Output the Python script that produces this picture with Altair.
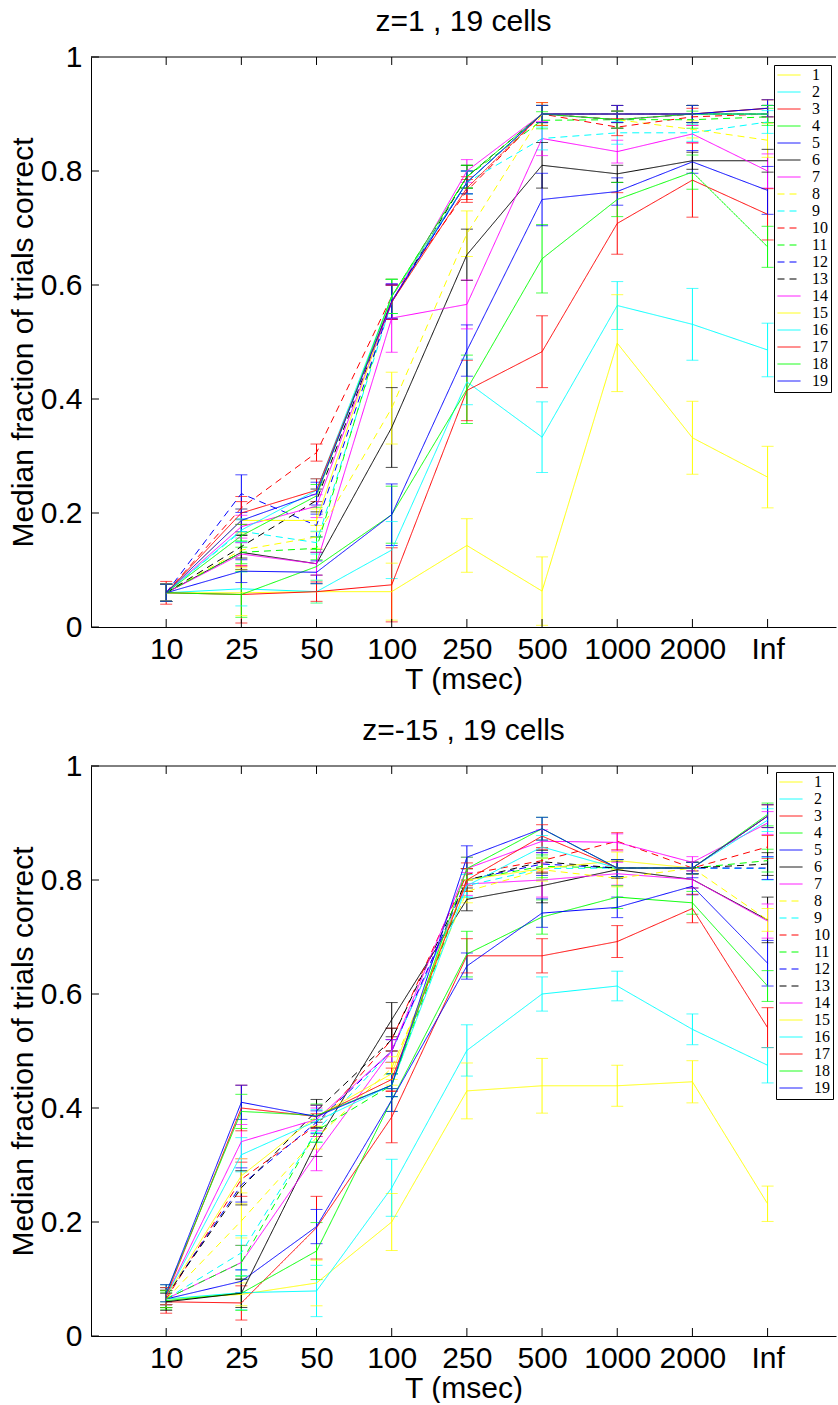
import altair as alt
import pandas as pd

# ---------------- data ----------------
T_LABELS = ["10", "25", "50", "100", "250", "500", "1000", "2000", "Inf"]
X_POS = [1, 2, 3, 4, 5, 6, 7, 8, 9]
CELLS = [str(i) for i in range(1, 20)]
BASE_COLORS = ["#ffff00", "#00ffff", "#ff0000", "#00ff00", "#0000ff", "#000000", "#ff00ff"]
LINE_COLORS = [BASE_COLORS[i % 7] for i in range(19)]
DASHES = [[1, 0]] * 7 + [[7, 5]] * 6 + [[1, 0]] * 6
Y_TICKS = [0, 0.2, 0.4, 0.6, 0.8, 1]

# z = 1 panel: median fraction correct per cell
TOP_VALUES = {
    "1": [0.060, 0.060, 0.062, 0.062, 0.143, 0.063, 0.498, 0.332, 0.263],
    "2": [0.060, 0.067, 0.062, 0.135, 0.430, 0.333, 0.564, 0.531, 0.486],
    "3": [0.060, 0.057, 0.062, 0.074, 0.415, 0.483, 0.708, 0.784, 0.724],
    "4": [0.060, 0.057, 0.106, 0.197, 0.417, 0.646, 0.750, 0.798, 0.667],
    "5": [0.060, 0.098, 0.096, 0.197, 0.485, 0.750, 0.764, 0.816, 0.766],
    "6": [0.060, 0.131, 0.111, 0.350, 0.653, 0.810, 0.795, 0.818, 0.818],
    "7": [0.060, 0.128, 0.111, 0.542, 0.566, 0.857, 0.834, 0.865, 0.800],
    "8": [0.060, 0.135, 0.158, 0.384, 0.690, 0.900, 0.890, 0.873, 0.854],
    "9": [0.060, 0.168, 0.148, 0.570, 0.780, 0.857, 0.867, 0.867, 0.886],
    "10": [0.060, 0.209, 0.306, 0.580, 0.765, 0.900, 0.877, 0.895, 0.900],
    "11": [0.060, 0.131, 0.138, 0.580, 0.790, 0.889, 0.890, 0.890, 0.895],
    "12": [0.060, 0.234, 0.178, 0.570, 0.780, 0.900, 0.900, 0.900, 0.900],
    "13": [0.060, 0.141, 0.222, 0.570, 0.790, 0.900, 0.890, 0.900, 0.900],
    "14": [0.060, 0.176, 0.212, 0.570, 0.800, 0.900, 0.890, 0.900, 0.900],
    "15": [0.060, 0.187, 0.187, 0.580, 0.780, 0.900, 0.900, 0.900, 0.910],
    "16": [0.060, 0.170, 0.240, 0.580, 0.780, 0.900, 0.900, 0.900, 0.900],
    "17": [0.060, 0.200, 0.240, 0.570, 0.770, 0.900, 0.900, 0.900, 0.910],
    "18": [0.060, 0.160, 0.230, 0.580, 0.790, 0.900, 0.890, 0.900, 0.900],
    "19": [0.060, 0.187, 0.234, 0.572, 0.780, 0.900, 0.900, 0.900, 0.910],
}
TOP_ERRORS = {
    "1": [0.015, 0.040, 0.020, 0.050, 0.047, 0.060, 0.085, 0.064, 0.054],
    "2": [0.015, 0.030, 0.020, 0.050, 0.040, 0.062, 0.042, 0.063, 0.047],
    "3": [0.020, 0.050, 0.017, 0.065, 0.053, 0.063, 0.054, 0.065, 0.045],
    "4": [0.015, 0.040, 0.030, 0.050, 0.060, 0.060, 0.030, 0.030, 0.036],
    "5": [0.015, 0.020, 0.020, 0.054, 0.045, 0.046, 0.024, 0.020, 0.042],
    "6": [0.015, 0.030, 0.020, 0.070, 0.045, 0.040, 0.015, 0.015, 0.020],
    "7": [0.015, 0.020, 0.020, 0.060, 0.043, 0.030, 0.020, 0.015, 0.030],
    "8": [0.015, 0.030, 0.020, 0.063, 0.040, 0.020, 0.015, 0.015, 0.030],
    "9": [0.015, 0.020, 0.020, 0.030, 0.020, 0.020, 0.020, 0.015, 0.020],
    "10": [0.015, 0.020, 0.015, 0.030, 0.020, 0.020, 0.015, 0.015, 0.015],
    "11": [0.015, 0.020, 0.020, 0.030, 0.020, 0.015, 0.015, 0.015, 0.015],
    "12": [0.015, 0.033, 0.020, 0.030, 0.020, 0.015, 0.015, 0.015, 0.015],
    "13": [0.015, 0.020, 0.020, 0.030, 0.020, 0.015, 0.015, 0.015, 0.015],
    "14": [0.015, 0.020, 0.020, 0.030, 0.020, 0.015, 0.015, 0.015, 0.015],
    "15": [0.015, 0.020, 0.020, 0.030, 0.020, 0.015, 0.015, 0.015, 0.015],
    "16": [0.015, 0.020, 0.020, 0.030, 0.020, 0.015, 0.015, 0.015, 0.015],
    "17": [0.015, 0.020, 0.020, 0.030, 0.020, 0.015, 0.015, 0.015, 0.015],
    "18": [0.015, 0.020, 0.020, 0.030, 0.020, 0.015, 0.015, 0.015, 0.015],
    "19": [0.015, 0.020, 0.020, 0.030, 0.020, 0.015, 0.015, 0.015, 0.015],
}

# z = -15 panel
BOT_VALUES = {
    "1": [0.065, 0.073, 0.093, 0.200, 0.430, 0.439, 0.439, 0.446, 0.232],
    "2": [0.065, 0.076, 0.079, 0.260, 0.501, 0.600, 0.614, 0.538, 0.475],
    "3": [0.060, 0.058, 0.190, 0.384, 0.667, 0.667, 0.692, 0.750, 0.541],
    "4": [0.062, 0.075, 0.149, 0.414, 0.670, 0.735, 0.770, 0.760, 0.614],
    "5": [0.065, 0.096, 0.192, 0.414, 0.649, 0.742, 0.752, 0.789, 0.654],
    "6": [0.060, 0.075, 0.340, 0.555, 0.766, 0.790, 0.818, 0.801, 0.730],
    "7": [0.065, 0.129, 0.320, 0.500, 0.793, 0.800, 0.811, 0.801, 0.728],
    "8": [0.065, 0.202, 0.348, 0.470, 0.780, 0.818, 0.803, 0.821, 0.730],
    "9": [0.065, 0.146, 0.360, 0.500, 0.790, 0.820, 0.821, 0.821, 0.820],
    "10": [0.065, 0.275, 0.370, 0.520, 0.810, 0.834, 0.868, 0.821, 0.858],
    "11": [0.065, 0.129, 0.360, 0.440, 0.800, 0.824, 0.821, 0.821, 0.834],
    "12": [0.070, 0.265, 0.375, 0.500, 0.800, 0.828, 0.821, 0.821, 0.821],
    "13": [0.070, 0.260, 0.395, 0.520, 0.800, 0.832, 0.821, 0.821, 0.828],
    "14": [0.070, 0.341, 0.380, 0.500, 0.820, 0.868, 0.866, 0.831, 0.900],
    "15": [0.070, 0.281, 0.385, 0.460, 0.800, 0.820, 0.834, 0.821, 0.912],
    "16": [0.070, 0.318, 0.377, 0.440, 0.790, 0.858, 0.821, 0.821, 0.905],
    "17": [0.070, 0.400, 0.385, 0.450, 0.800, 0.877, 0.821, 0.821, 0.912],
    "18": [0.075, 0.394, 0.387, 0.440, 0.820, 0.890, 0.821, 0.821, 0.915],
    "19": [0.075, 0.410, 0.385, 0.440, 0.840, 0.890, 0.821, 0.821, 0.912],
}
BOT_ERRORS = {
    "1": [0.015, 0.020, 0.040, 0.050, 0.049, 0.048, 0.036, 0.037, 0.031],
    "2": [0.015, 0.030, 0.045, 0.050, 0.045, 0.030, 0.026, 0.027, 0.031],
    "3": [0.020, 0.030, 0.055, 0.045, 0.030, 0.030, 0.028, 0.025, 0.035],
    "4": [0.015, 0.030, 0.050, 0.020, 0.040, 0.030, 0.020, 0.020, 0.027],
    "5": [0.015, 0.020, 0.030, 0.020, 0.023, 0.025, 0.018, 0.015, 0.040],
    "6": [0.015, 0.025, 0.025, 0.030, 0.020, 0.030, 0.015, 0.015, 0.040],
    "7": [0.015, 0.030, 0.030, 0.020, 0.020, 0.030, 0.020, 0.015, 0.030],
    "8": [0.015, 0.030, 0.020, 0.020, 0.020, 0.020, 0.015, 0.010, 0.020],
    "9": [0.015, 0.030, 0.020, 0.020, 0.020, 0.020, 0.015, 0.010, 0.020],
    "10": [0.015, 0.030, 0.020, 0.020, 0.020, 0.020, 0.015, 0.010, 0.020],
    "11": [0.015, 0.030, 0.020, 0.020, 0.020, 0.020, 0.015, 0.010, 0.020],
    "12": [0.015, 0.030, 0.020, 0.020, 0.020, 0.020, 0.015, 0.010, 0.020],
    "13": [0.015, 0.030, 0.020, 0.020, 0.020, 0.020, 0.015, 0.010, 0.020],
    "14": [0.015, 0.030, 0.020, 0.020, 0.020, 0.020, 0.015, 0.010, 0.020],
    "15": [0.015, 0.030, 0.020, 0.020, 0.020, 0.020, 0.015, 0.010, 0.020],
    "16": [0.015, 0.030, 0.020, 0.020, 0.020, 0.020, 0.015, 0.010, 0.020],
    "17": [0.015, 0.040, 0.020, 0.020, 0.020, 0.020, 0.015, 0.010, 0.020],
    "18": [0.015, 0.030, 0.020, 0.020, 0.020, 0.020, 0.015, 0.010, 0.020],
    "19": [0.015, 0.030, 0.020, 0.020, 0.020, 0.020, 0.015, 0.010, 0.020],
}

# ---------------- chart ----------------
XMAX = 9.91
FONT = "Liberation Sans"
FS = 30
LABEL_EXPR = "[''," + ",".join("'%s'" % t for t in T_LABELS) + "][datum.value]"


def make_panel(values, errors, title, legend_x, legend_y):
    rows = []
    for c in CELLS:
        for i, xp in enumerate(X_POS):
            v = values[c][i]
            e = errors[c][i]
            rows.append({"cell": c, "x": xp, "v": v,
                         "lo": max(v - e, 0.0), "hi": v + e})
    df = pd.DataFrame(rows)

    tick_rows = []
    for xp in X_POS:
        tick_rows.append({"x": xp, "x2": xp, "y": 0.0, "y2": 0.014})
        tick_rows.append({"x": xp, "x2": xp, "y": 1.0, "y2": 0.986})
    for yt in Y_TICKS:
        tick_rows.append({"x": 0.0, "x2": 0.106, "y": yt, "y2": yt})
    tick_rows.append({"x": 0.0, "x2": XMAX, "y": 1.0, "y2": 1.0})
    ticks_df = pd.DataFrame(tick_rows)

    leg = alt.Legend(orient="none", legendX=legend_x, legendY=legend_y, title=None,
                     symbolType="stroke", symbolSize=529, symbolStrokeWidth=1,
                     labelFont="Liberation Serif", labelFontSize=16, labelOffset=11,
                     clipHeight=14, rowPadding=1, padding=3, strokeColor="black",
                     fillColor="white", labelColor="black", symbolOpacity=1)
    xscale = alt.Scale(domain=[0, XMAX], nice=False, zero=False)
    yscale = alt.Scale(domain=[0, 1], nice=False)
    xaxis = alt.Axis(values=X_POS, labelExpr=LABEL_EXPR, title="T (msec)", grid=False,
                     ticks=False, domain=True, domainColor="black", labelFontSize=FS,
                     titleFontSize=FS, labelPadding=7, titlePadding=0, labelFont=FONT,
                     titleFont=FONT, titleFontWeight="normal", labelColor="black",
                     titleColor="black", labelFlush=False)
    yaxis = alt.Axis(values=Y_TICKS, format="~g", title="Median fraction of trials correct",
                     grid=False, ticks=False, domain=True, domainColor="black",
                     labelFontSize=FS, titleFontSize=FS, labelPadding=9, titlePadding=2,
                     labelFont=FONT, titleFont=FONT, titleFontWeight="normal",
                     labelColor="black", titleColor="black")
    color = alt.Color("cell:N", scale=alt.Scale(domain=CELLS, range=LINE_COLORS), legend=leg)
    dash = alt.StrokeDash("cell:N", scale=alt.Scale(domain=CELLS, range=DASHES), legend=leg)

    base = alt.Chart(df)
    X = alt.X("x:Q", scale=xscale, axis=xaxis)
    err = base.mark_rule(strokeWidth=1).encode(
        x=X, y=alt.Y("lo:Q", scale=yscale, axis=yaxis), y2="hi:Q", color=color)
    cap_lo = base.mark_tick(orient="horizontal", size=12, thickness=1).encode(
        x=X, y=alt.Y("lo:Q", scale=yscale, axis=yaxis), color=color)
    cap_hi = base.mark_tick(orient="horizontal", size=12, thickness=1).encode(
        x=X, y=alt.Y("hi:Q", scale=yscale, axis=yaxis), color=color)
    lines = base.mark_line(strokeWidth=1).encode(
        x=X, y=alt.Y("v:Q", scale=yscale, axis=yaxis), color=color, strokeDash=dash,
        order="x:Q")
    frame = alt.Chart(ticks_df).mark_rule(color="black", strokeWidth=1).encode(
        x=alt.X("x:Q", scale=xscale, axis=xaxis), x2="x2:Q",
        y=alt.Y("y:Q", scale=yscale, axis=yaxis), y2="y2:Q")

    return alt.layer(err, cap_lo, cap_hi, lines, frame).properties(
        width=745, height=570,
        title=alt.TitleParams(title, fontSize=FS, font=FONT, fontWeight="normal",
                              color="black", offset=5, anchor="middle"))


top = make_panel(TOP_VALUES, TOP_ERRORS, "z=1 , 19 cells", 683, 8)
bottom = make_panel(BOT_VALUES, BOT_ERRORS, "z=-15 , 19 cells", 685, 6)

chart = alt.vconcat(top, bottom, spacing=22).resolve_scale(
    color="independent", strokeDash="independent"
).resolve_legend(color="independent", strokeDash="independent").properties(
    padding={"left": 8, "top": 7, "right": 0, "bottom": 0}, background="white"
).configure_view(stroke=None)

chart.save("out.html", embed_options={"renderer": "svg", "actions": False})
